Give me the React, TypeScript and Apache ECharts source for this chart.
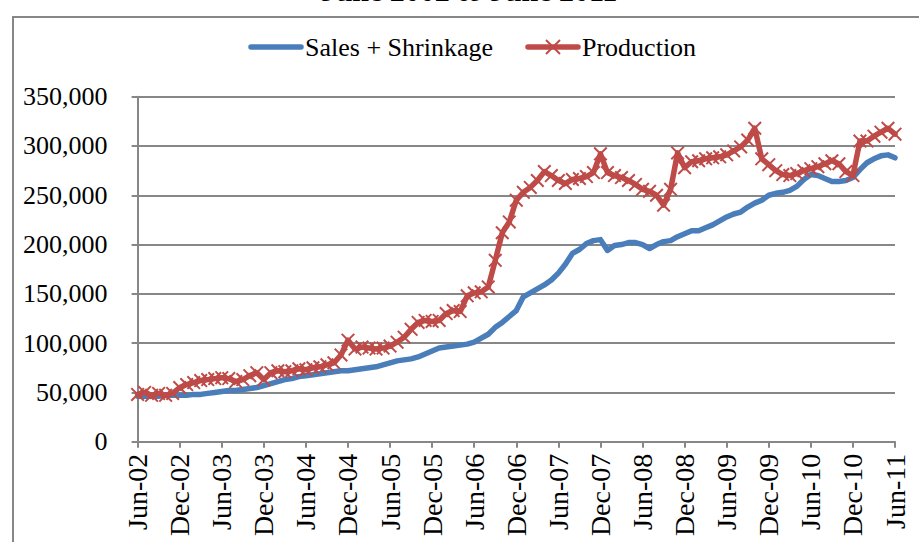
import React, { useEffect, useRef } from "react";
import * as echarts from "echarts";

const MONTH_NAMES = ["Jan", "Feb", "Mar", "Apr", "May", "Jun", "Jul", "Aug", "Sep", "Oct", "Nov", "Dec"];
// Monthly categories Jun-02 .. Jun-11
const categories: string[] = [];
for (let i = 0; i < 109; i++) {
  const m = (5 + i) % 12;
  const y = 2002 + Math.floor((5 + i) / 12);
  categories.push(`${MONTH_NAMES[m]}-${String(y % 100).padStart(2, "0")}`);
}

// Values in thousands
const salesShrinkage = [
  46, 46, 46, 46, 47, 47, 47,
  47, 48, 48, 49, 50, 51, 52, 52, 53, 54, 55, 57,
  59, 61, 63, 64, 66, 67, 68, 69, 70, 71, 72, 72,
  73, 74, 75, 76, 78, 80, 82, 83, 84, 86, 89, 92,
  95, 96, 97, 98, 99, 101, 105, 109, 116, 121, 127, 133,
  147, 151, 155, 159, 164, 171, 180, 191, 195, 201, 204, 205,
  194, 199, 200, 202, 202, 200, 196, 200, 203, 204, 208, 211,
  214, 214, 217, 220, 224, 228, 231, 233, 238, 242, 245, 250,
  252, 253, 255, 259, 266, 271, 270, 267, 264, 264, 265, 268,
  276, 283, 287, 290, 291, 288,
];

const production = [
  48, 50, 47, 49, 47, 49, 55,
  58, 60, 62, 63, 64, 65, 64, 61, 63, 67, 70, 63,
  70, 72, 71, 72, 74, 73, 75, 76, 78, 80, 88, 103,
  94, 96, 95, 94, 95, 97, 101, 106, 114, 121, 123, 122,
  123, 130, 133, 132, 148, 151, 152, 157, 184, 212, 223, 245,
  253, 258, 265, 274, 270, 265, 262, 266, 267, 269, 273, 292,
  273, 270, 268, 265, 261, 256, 254, 250, 240, 256, 293, 278,
  284, 285, 287, 288, 289, 291, 295, 299, 306, 318, 287, 281,
  275, 271, 270, 272, 275, 277, 279, 282, 285, 282, 274, 270,
  305, 305, 310, 314, 318, 312,
];

const seriesNames = ["Sales + Shrinkage", "Production"];
const titleText = "June 2002 to June 2011";
const yMin = 0;
const yMax = 350000;
const yStep = 50000;

const FONT = "Liberation Serif";
const GRID_GRAY = "#878787";
const BLUE = "#4A7EBB";
const RED = "#BE4B48";
const X_SYMBOL = "path://M0,1L1,0L10,9L9,10Z M9,0L10,1L1,10L0,9Z";

function legendItem(x: number, y: number, color: string, name: string, withX: boolean) {
  const children: any[] = [
    {
      type: "line",
      shape: { x1: x + 2, y1: y, x2: x + 52, y2: y },
      style: { stroke: color, lineWidth: 5.5, lineCap: "round" },
    },
    {
      type: "text",
      x: x + 56,
      y,
      style: {
        text: name,
        fontFamily: FONT,
        fontSize: 26,
        fill: "#000",
        align: "left",
        verticalAlign: "middle",
      },
    },
  ];
  if (withX) {
    const cx = x + 27;
    children.push(
      { type: "line", shape: { x1: cx - 7, y1: y - 7, x2: cx + 7, y2: y + 7 }, style: { stroke: color, lineWidth: 2 } },
      { type: "line", shape: { x1: cx + 7, y1: y - 7, x2: cx - 7, y2: y + 7 }, style: { stroke: color, lineWidth: 2 } }
    );
  }
  return { type: "group", children };
}

export default function App() {
  const ref = useRef<HTMLDivElement>(null);

  useEffect(() => {
    if (!ref.current) return;
    const chart = echarts.init(ref.current, undefined, { renderer: "svg" });
    const option: any = {
      animation: false,
      backgroundColor: "#ffffff",
      textStyle: { fontFamily: FONT },
      graphic: [
        {
          type: "rect",
          z: 0,
          shape: { x: 13, y: 17, width: 1000, height: 700 },
          style: { fill: "none", stroke: GRID_GRAY, lineWidth: 2 },
        },
        {
          type: "text",
          x: 469,
          y: -10,
          style: {
            text: titleText,
            fontFamily: FONT,
            fontWeight: "bold",
            fontSize: 30,
            fill: "#000",
            align: "center",
            verticalAlign: "middle",
          },
        },
        legendItem(249, 47, BLUE, seriesNames[0], false),
        legendItem(526, 47, RED, seriesNames[1], true),
      ],
      legend: { show: false, data: seriesNames },
      grid: { left: 137.6, right: 24, top: 96.7, bottom: 100.3, containLabel: false },
      xAxis: {
        type: "category",
        data: categories,
        boundaryGap: false,
        axisLine: { lineStyle: { color: GRID_GRAY, width: 2 } },
        axisTick: { show: true, interval: 5, length: 6, lineStyle: { color: GRID_GRAY, width: 2 } },
        axisLabel: {
          interval: 5,
          rotate: 90,
          margin: 12,
          fontFamily: FONT,
          fontSize: 28,
          color: "#000",
        },
        splitLine: { show: false },
      },
      yAxis: {
        type: "value",
        min: yMin,
        max: yMax,
        interval: yStep,
        axisLine: { show: true, lineStyle: { color: GRID_GRAY, width: 2 } },
        axisTick: { show: true, length: 6, lineStyle: { color: GRID_GRAY, width: 2 } },
        axisLabel: {
          margin: 30,
          fontFamily: FONT,
          fontSize: 26,
          color: "#000",
          formatter: (v: number) => v.toLocaleString("en-US"),
        },
        splitLine: { show: true, lineStyle: { color: GRID_GRAY, width: 2 } },
      },
      series: [
        {
          name: seriesNames[0],
          type: "line",
          data: salesShrinkage.map((v) => v * 1000),
          symbol: "none",
          lineStyle: { color: BLUE, width: 5.5, cap: "round", join: "round" },
          itemStyle: { color: BLUE },
          z: 2,
        },
        {
          name: seriesNames[1],
          type: "line",
          data: production.map((v) => v * 1000),
          symbol: X_SYMBOL,
          symbolSize: 14,
          showSymbol: true,
          showAllSymbol: true,
          lineStyle: { color: RED, width: 5.5, cap: "round", join: "round" },
          itemStyle: { color: RED, borderWidth: 0 },
          z: 3,
        },
      ],
    };
    chart.setOption(option);
    return () => chart.dispose();
  }, []);

  return (
    <div
      ref={ref}
      style={{ position: "fixed", left: 0, top: 0, width: 919, height: 542, background: "#fff" }}
    />
  );
}
